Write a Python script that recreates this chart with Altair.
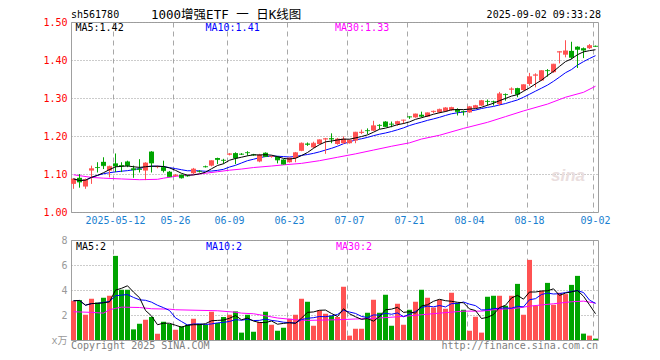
import altair as alt
import pandas as pd

# ---------------- data ----------------
opens = [1.074, 1.090, 1.067, 1.109, 1.118, 1.132, 1.109, 1.128, 1.123, 1.133,
         1.115, 1.114, 1.109, 1.159, 1.118, 1.118, 1.106, 1.095, 1.098, 1.096,
         1.102, 1.108, 1.120, 1.122, 1.142, 1.137, 1.151, 1.155, 1.153, 1.157,
         1.151, 1.133, 1.156, 1.145, 1.146, 1.138, 1.131, 1.142, 1.161, 1.180,
         1.170, 1.179, 1.191, 1.194, 1.179, 1.181, 1.181, 1.188, 1.208, 1.215,
         1.214, 1.229, 1.238, 1.232, 1.231, 1.241, 1.251, 1.249, 1.256, 1.251,
         1.263, 1.262, 1.265, 1.268, 1.271, 1.265, 1.262, 1.274, 1.280, 1.292,
         1.291, 1.284, 1.310, 1.322, 1.326, 1.321, 1.337, 1.359, 1.346, 1.373,
         1.368, 1.420, 1.414, 1.424, 1.435, 1.431, 1.431, 1.437]
highs = [1.088, 1.100, 1.088, 1.122, 1.131, 1.144, 1.122, 1.154, 1.131, 1.135,
         1.122, 1.139, 1.131, 1.160, 1.122, 1.135, 1.108, 1.100, 1.099, 1.098,
         1.116, 1.110, 1.122, 1.136, 1.143, 1.140, 1.155, 1.157, 1.155, 1.160,
         1.153, 1.153, 1.157, 1.148, 1.147, 1.139, 1.143, 1.158, 1.183, 1.183,
         1.185, 1.191, 1.195, 1.207, 1.195, 1.199, 1.190, 1.211, 1.217, 1.220,
         1.240, 1.231, 1.239, 1.238, 1.240, 1.243, 1.252, 1.259, 1.264, 1.262,
         1.267, 1.272, 1.276, 1.277, 1.273, 1.267, 1.279, 1.282, 1.295, 1.296,
         1.293, 1.316, 1.312, 1.328, 1.327, 1.336, 1.366, 1.365, 1.373, 1.376,
         1.390, 1.423, 1.452, 1.448, 1.436, 1.433, 1.442, 1.438]
lows = [1.061, 1.064, 1.061, 1.074, 1.104, 1.113, 1.091, 1.105, 1.105, 1.118,
        1.090, 1.104, 1.084, 1.104, 1.115, 1.104, 1.093, 1.093, 1.088, 1.093,
        1.100, 1.104, 1.117, 1.120, 1.126, 1.127, 1.149, 1.126, 1.150, 1.148,
        1.148, 1.131, 1.145, 1.143, 1.128, 1.125, 1.130, 1.131, 1.160, 1.174,
        1.168, 1.178, 1.153, 1.181, 1.177, 1.179, 1.180, 1.181, 1.205, 1.205,
        1.213, 1.218, 1.224, 1.223, 1.227, 1.232, 1.245, 1.248, 1.249, 1.250,
        1.260, 1.260, 1.263, 1.266, 1.254, 1.254, 1.261, 1.273, 1.279, 1.280,
        1.280, 1.280, 1.293, 1.311, 1.302, 1.319, 1.332, 1.328, 1.345, 1.356,
        1.366, 1.391, 1.407, 1.402, 1.379, 1.405, 1.429, 1.435]
closes = [1.087, 1.079, 1.085, 1.114, 1.117, 1.122, 1.120, 1.121, 1.121, 1.122,
          1.111, 1.112, 1.129, 1.129, 1.120, 1.109, 1.093, 1.097, 1.090, 1.095,
          1.113, 1.107, 1.119, 1.135, 1.138, 1.136, 1.153, 1.142, 1.152, 1.156,
          1.150, 1.150, 1.146, 1.146, 1.137, 1.126, 1.142, 1.156, 1.181, 1.178,
          1.181, 1.190, 1.193, 1.192, 1.192, 1.192, 1.189, 1.210, 1.210, 1.214,
          1.227, 1.228, 1.225, 1.231, 1.238, 1.242, 1.250, 1.258, 1.252, 1.261,
          1.265, 1.270, 1.274, 1.275, 1.264, 1.264, 1.277, 1.280, 1.293, 1.291,
          1.290, 1.311, 1.309, 1.324, 1.310, 1.335, 1.356, 1.361, 1.372, 1.372,
          1.389, 1.422, 1.424, 1.407, 1.428, 1.426, 1.438, 1.436]
volumes = [3.14, 3.19, 2.02, 3.30, 3.00, 3.38, 3.54, 6.73, 4.02, 4.02,
           0.85, 1.30, 1.62, 1.84, 0.50, 1.46, 1.28, 0.82, 1.09, 1.22,
           1.70, 1.30, 1.22, 2.26, 1.36, 1.84, 2.02, 2.29, 0.59, 2.02,
           0.66, 1.44, 2.26, 1.22, 0.74, 0.98, 1.70, 2.02, 3.30, 3.06,
           1.14, 2.37, 2.10, 1.94, 1.84, 4.26, 0.35, 0.90, 0.90, 2.18,
           3.22, 2.18, 3.62, 1.14, 2.90, 1.22, 2.42, 3.06, 4.02, 3.38,
           2.60, 3.22, 2.50, 3.78, 2.98, 2.42, 0.74, 1.86, 0.59, 3.46,
           3.54, 3.54, 2.74, 3.54, 4.49, 2.02, 6.41, 2.74, 3.94, 4.57,
           2.82, 3.78, 3.67, 4.41, 5.13, 0.51, 0.35, 0.11]

# MA30 lines (candle index, value)
ma30_idx = [0, 3, 5, 8, 11, 14, 15, 17, 20, 22, 24, 26, 28, 30, 33, 35, 38, 41,
            44, 47, 50, 53, 56, 58, 61, 65, 69, 72, 75, 79, 82, 85, 87]
ma30_price = [1.098, 1.091, 1.089, 1.087, 1.085, 1.086, 1.089, 1.094, 1.098, 1.102,
              1.106, 1.110, 1.113, 1.117, 1.121, 1.124, 1.128, 1.135, 1.144, 1.153,
              1.163, 1.173, 1.182, 1.192, 1.202, 1.220, 1.236, 1.251, 1.266, 1.284,
              1.302, 1.315, 1.331]
vma30_idx = [0, 3, 5, 6, 7, 8, 11, 13, 16, 17, 24, 27, 28, 30, 32, 34, 37, 39, 44,
             47, 51, 55, 58, 61, 65, 68, 70, 74, 76, 80, 83, 85, 87]
vma30_vals = [2.26, 2.21, 2.15, 2.42, 2.53, 2.63, 2.60, 2.50, 2.47, 2.42, 2.34, 2.22,
              2.15, 2.10, 1.94, 1.76, 1.62, 1.57, 1.62, 1.68, 1.76, 1.89, 2.02, 2.15,
              2.31, 2.31, 2.42, 2.55, 2.71, 2.90, 3.06, 3.11, 2.95]

label_dates = ["2025-05-12", "2025-05-26", "2025-06-09", "2025-06-23", "2025-07-07",
               "2025-07-21", "2025-08-04", "2025-08-18", "2025-09-02"]
price_ticks = [1.0, 1.1, 1.2, 1.3, 1.4, 1.5]
vol_ticks = [0, 2, 4, 6, 8]

holidays = {"2025-05-01", "2025-05-02", "2025-05-05", "2025-06-02"}
dates = [d.strftime("%Y-%m-%d") for d in pd.bdate_range("2025-04-28", "2025-09-02")
         if d.strftime("%Y-%m-%d") not in holidays]

df = pd.DataFrame({"idx": list(range(len(dates))), "date": dates, "open": opens,
                   "high": highs, "low": lows, "close": closes, "vol": volumes})
df30 = pd.DataFrame({"date": [dates[i] for i in ma30_idx], "v": ma30_price})
dfv30 = pd.DataFrame({"date": [dates[i] for i in vma30_idx], "v": vma30_vals})

# ---------------- styles ----------------
RED = "#ff5252"
GREEN = "#00a400"
MONO = "DejaVu Sans Mono"
W = 527

xscale = alt.Scale(domain=dates, paddingInner=1 / 6, paddingOuter=0)


def xenc(labels):
    return alt.X("date:O", scale=xscale, title=None,
                 axis=alt.Axis(values=label_dates, bandPosition=0, grid=True,
                               gridDash=[5, 4], gridColor="#a8a8a8", domain=False,
                               ticks=False, tickSize=0, labels=labels,
                               labelExpr="datum.value == '2025-05-12' ? datum.value : substring(datum.value, 5, 10)",
                               labelColor="#1a80d0", labelFont=MONO, labelFontSize=10,
                               labelPadding=3, labelAngle=0))


ys = alt.Scale(domain=[1.0, 1.5], nice=False, zero=False)
ya = alt.Axis(values=price_ticks, format=".2f", grid=True, gridDash=[1, 2],
              gridColor="#999999", domain=False, ticks=False, labelColor="#ff0000",
              labelFont=MONO, labelFontSize=10, labelPadding=4, labelFlush=False,
              title=None, minExtent=62, maxExtent=62)
vs = alt.Scale(domain=[0, 8], nice=False)
va = alt.Axis(values=vol_ticks, grid=True, gridDash=[1, 2], gridColor="#999999",
              domain=False, ticks=False, labelColor="#999999",
              labelFont="DejaVu Sans Mono, Noto Sans CJK SC", labelFontSize=10,
              labelPadding=4, labelFlush=False, title=None,
              labelExpr="datum.value == 0 ? 'x万' : datum.label",
              minExtent=62, maxExtent=62)

color = alt.condition("datum.close >= datum.open", alt.value(RED), alt.value(GREEN))


def label(text, x, y, col="black", align="left", size=10, font=MONO, **kw):
    return alt.Chart(pd.DataFrame({"t": [text]})).mark_text(
        align=align, baseline="middle", font=font, fontSize=size, color=col, **kw
    ).encode(x=alt.value(x), y=alt.value(y), text="t:N")


base = alt.Chart(df)
sortidx = [alt.SortField("idx", order="ascending")]

# ---------------- price panel ----------------
wick = base.mark_rule(strokeWidth=1).encode(
    x=xenc(True), y=alt.Y("low:Q", scale=ys, axis=ya), y2="high:Q", color=color)
body = base.mark_bar().encode(
    x=xenc(True), y=alt.Y("open:Q", scale=ys, axis=ya), y2="close:Q", color=color)
tick = base.mark_tick(orient="horizontal", size=5, thickness=1).encode(
    x=xenc(True), y=alt.Y("close:Q", scale=ys, axis=ya), color=color)
ma = base.transform_window(ma5="mean(close)", frame=[-4, 0], sort=sortidx) \
         .transform_window(ma10="mean(close)", frame=[-9, 0], sort=sortidx)
ma5 = ma.mark_line(color="black", strokeWidth=1).encode(
    x=xenc(True), y=alt.Y("ma5:Q", scale=ys, axis=ya))
ma10 = ma.mark_line(color="#0000ff", strokeWidth=1).encode(
    x=xenc(True), y=alt.Y("ma10:Q", scale=ys, axis=ya))
ma30 = alt.Chart(df30).mark_line(color="#ff00ff", strokeWidth=1).encode(
    x=xenc(True), y=alt.Y("v:Q", scale=ys, axis=ya))

top = alt.layer(
    label("sina", 497, 154, col="#eadede", size=17, font="Liberation Sans",
          fontStyle="italic", fontWeight="bold", align="center"),
    ma30, ma10, wick, body, tick, ma5,
    label("MA5:1.42", 4.5, 6),
    label("MA10:1.41", 134.5, 6, col="#0000ff"),
    label("MA30:1.33", 264, 6, col="#ff00ff"),
    label("sh561780", 0, -7),
    label("1000增强ETF 一 日K线图", 80, -7, size=12.5, font="DejaVu Sans Mono, Noto Sans CJK SC"),
    label("2025-09-02 09:33:28", 530, -7, align="right"),
).properties(width=W, height=190)

# ---------------- volume panel ----------------
vbar = base.mark_bar().encode(
    x=xenc(False), y=alt.Y("vol:Q", scale=vs, axis=va), color=color)
vma = base.transform_window(v5="mean(vol)", frame=[-4, 0], sort=sortidx) \
          .transform_window(v10="mean(vol)", frame=[-9, 0], sort=sortidx)
v5 = vma.mark_line(color="black", strokeWidth=1).encode(
    x=xenc(False), y=alt.Y("v5:Q", scale=vs, axis=va))
v10 = vma.mark_line(color="#0000ff", strokeWidth=1).encode(
    x=xenc(False), y=alt.Y("v10:Q", scale=vs, axis=va))
v30 = alt.Chart(dfv30).mark_line(color="#ff00ff", strokeWidth=1).encode(
    x=xenc(False), y=alt.Y("v:Q", scale=vs, axis=va))

bottom = alt.layer(
    vbar, v30, v10, v5,
    label("MA5:2", 5, 6.5),
    label("MA10:2", 135, 6.5, col="#0000ff"),
    label("MA30:2", 265, 6.5, col="#ff00ff"),
    label("Copyright 2025 SINA.COM", 0, 106, col="#808080"),
    label("http://finance.sina.com.cn", 527, 106, col="#808080", align="right"),
).properties(width=W, height=100)

chart = alt.vconcat(top, bottom, spacing=8).properties(
    padding={"left": 0, "top": 0, "right": 4, "bottom": 2},
    background="white",
).configure_view(stroke="#a0a0a0", strokeWidth=1)

chart.save("out.html", embed_options={"renderer": "svg", "actions": False})
